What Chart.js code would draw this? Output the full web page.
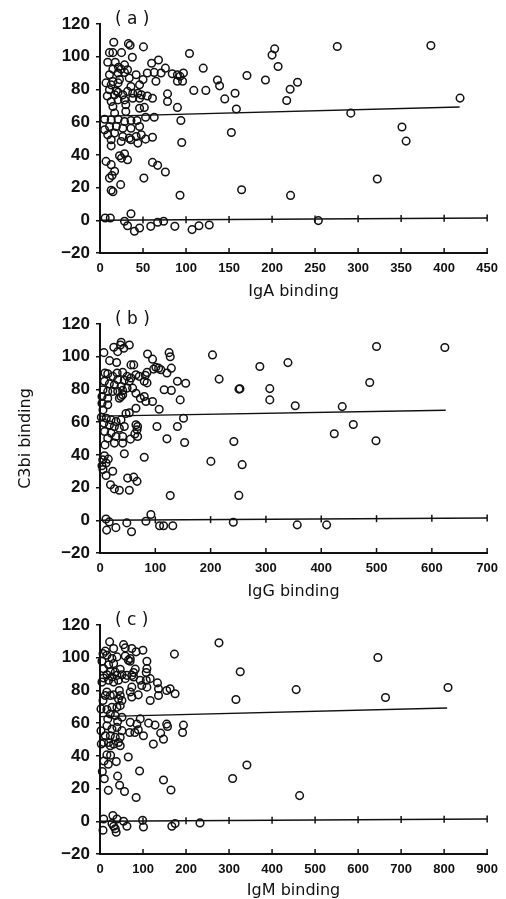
<!DOCTYPE html>
<html><head><meta charset="utf-8">
<script src="https://cdn.jsdelivr.net/npm/chart.js@4.4.1/dist/chart.umd.min.js"></script>
<style>
html,body{margin:0;padding:0;background:#fff;}
.panel{position:absolute;left:0;width:506px;}
canvas{display:block;}
</style></head><body>
<div class="panel" style="top:0;height:300px"><canvas id="cA" width="506" height="300"></canvas></div>
<div class="panel" style="top:300px;height:300px"><canvas id="cB" width="506" height="300"></canvas></div>
<div class="panel" style="top:600px;height:299px"><canvas id="cC" width="506" height="299"></canvas></div>
<script>
const yTicks = [-20, 0, 20, 40, 60, 80, 100, 120];
const igaTicks = [0, 50, 100, 150, 200, 250, 300, 350, 400, 450];
const iggTicks = [0, 100, 200, 300, 400, 500, 600, 700];
const igmTicks = [0, 100, 200, 300, 400, 500, 600, 700, 800, 900];
const panelLabels = ['( a )', '( b )', '( c )'];
const xTitles = ['IgA binding', 'IgG binding', 'IgM binding'];
const yTitle = 'C3bi binding';

const igaPoints = [
[16,108.8],[33,108],[35,107],[50.5,106],[11,102.5],[15,102.5],[25,102.5],[37.6,99.7],[104,102],[9,96.6],[17.7,96.6],[68,98],[60,96],[28.5,95],[21.5,93.6],[15,92.4],[24.6,92.4],[32,92],[76,93],[120,93],[11,89],[21,90],[28.5,90.4],[42,89],[55,90],[63,90.4],[71,90],[84,89.6],[90,89],[97,90],[93,88],[7,84],[15,84.8],[22.7,86],[34,87],[50,86],[65,85],[90,85],[96,85],[13,82.8],[21,84],[36,81.8],[46,82.8],[11,79.8],[19,79],[21,78.2],[32,78.8],[44,77.7],[109,79.4],[123,79.4],[8.5,76],[17,76.7],[26.5,76.7],[38,77.7],[48,76.7],[55,76],[61,74.6],[78.5,77.3],[78.5,72.6],[13,72.6],[21,73.6],[28.5,73.6],[38,74.6],[46,74.6],[15,69.5],[30,70.6],[46,68.5],[51.5,69],[90,69],[17,65.5],[30,66.5],[5.4,61.8],[13,61.4],[21,61.8],[28.5,60.4],[36,61],[43,61],[53,63],[63,63],[94,61],[5.4,55.3],[11,57.3],[19,57.3],[26.5,56.3],[36,56.3],[46,57.3],[9,52.3],[17,53.3],[26.5,51.2],[34,50.2],[42,51.2],[48,52.3],[53,49.6],[61,50.8],[13,49.2],[24.6,48.2],[36,49.2],[44,47.2],[13,45.5],[95,47.6],[7,36],[13,34],[22.7,39.5],[28.5,40.7],[32,37],[25,38],[61,35.4],[67,33.6],[76,29.5],[17,30],[14,27.4],[11,25.8],[51,25.8],[13,18.4],[15,17.5],[24,21.8],[93,15.3],[6,1.4],[12,1.4],[36,4],[28.5,-0.6],[32,-3.3],[40,-6.7],[46,-4.7],[59,-3.7],[67,-1.2],[74,-0.6],[87,-3.7],[107,-5.7],[115,-3.3],[127,-2.9],
[136.5,85.8],[139,82.2],[145,74.2],[157,77.7],[158.5,68],[152.7,53.7],[164.6,18.7],[170.8,88.5],[192.3,85.8],[200,101],[203,104.8],[207,94],[217,73.2],[221,80.1],[229.6,84.4],[221.5,15.2],[253.8,-0.2],[275.8,106.2],[291.5,65.5],[322.3,25.2],[351,57],[355.8,48.4],[384.6,106.8],[418.5,74.7]
];
const iggPoints = [
[38.3,108.8],[37,107.2],[53,107.2],[25,105.8],[43,105.2],[32,103.1],[7,102.5],[86,101.7],[125,102.5],[127,100],[17.4,97.6],[30,96.5],[56,95],[61,95],[95,98.5],[101,93.5],[106,93],[97,92.4],[110,92],[85,90.4],[82,88.7],[121,90],[129,93],[140,85],[155,83.8],
[9,90],[14,89.6],[23,88],[31,90],[41,90.4],[49,88],[56,87],[32,86],[44,85.6],[53,85],[65,89],[71,88],[80,85],[85,84],[8,85],[17,83.4],[26,82.8],[38,81.8],[49,80.8],[59,80.8],[5.4,79.8],[14,78.8],[23,78.8],[32,78.8],[41,79.4],[116,79.8],[129,79.4],[65,77.7],[73,74.6],[80,75.7],[83,72.6],[95,72.6],[107,67.9],[145,73.6],[3.6,75.7],[14,74.6],[35,74.6],[38,75.7],[41,76.7],[3.6,71.6],[14,70.6],[5.4,67.5],[65,68.5],[47,65.3],[53,65.7],
[2.4,63],[11.4,62.4],[20,61.4],[29,60.4],[38,61.4],[7,59.4],[17,58.3],[26,57.3],[35,56.3],[44,57.3],[8.4,54.3],[20,53.3],[29,51.2],[41,51.2],[14,50.2],[26,47.2],[9,46.1],[41,47.2],[55,49.6],[63,52.8],[67,55.3],[68,51.2],[65,58.4],[68,57.3],[103,57.3],[151,62.4],[140,57.3],[121,49.8],[153,47.6],
[44,40.7],[80,38.5],[8,39.5],[5,37],[15,37.4],[11,35],[3.6,33.3],[5.4,31],[23,30],[11,27.4],[50,25.8],[61,26.4],[67,23.8],[19,21.7],[26,19.2],[35,18.4],[53,18.4],[127,15.1],
[10.8,0.8],[16.7,-1],[12,-6],[28.7,-4.5],[48.5,-1.6],[57,-7],[83,-0.6],[92,3.5],[107.7,-3.3],[115,-3.3],[131.6,-3.3],[241,-1.2],[356.6,-2.8],[409.8,-2.8],
[203.4,101.1],[215.4,86.3],[251.3,80.2],[253,80.4],[289,94],[307,80.5],[307,73.6],[339.8,96.4],[353,70],[438,69.5],[487.7,84.2],[500,106.2],[623.5,105.6],[423.6,52.9],[458,58.6],[499,48.6],[242,48.2],[200.5,36],[257,34],[251,15.2]
];
const igmPoints = [
[22.4,109.7],[54.8,108],[58.7,106],[74,105.6],[84,103.6],[99.7,104.6],[31.7,105.6],[12.4,104],[7,102.5],[16,101.5],[27.8,99.5],[39.4,100.5],[58.7,101],[70.3,99.5],[173,102.2],[109,97.8],[109,93.3],[107.5,91],[82,93],[78,91],[74,89.2],[66,98.5],[70,97.8],
[4.6,97.8],[20,95.7],[31.7,96.4],[8.5,93.3],[24,91.6],[35.5,91.2],[47,92.9],[16.2,89.6],[27.8,88.2],[39.4,89.2],[51,89.6],[62.6,89.2],[8.5,87.6],[20,86.2],[31.7,85.1],[43,86.2],[58.7,87.2],[4.6,85.1],
[78,88.2],[93.5,86.2],[107.5,86.2],[116.7,87.2],[97,83],[109,82],[133.6,84.6],[136,81],[155,80],[163,81],[174.6,78],[116.7,73.8],[136,76.9],[74,82],[70.3,79],[74,76],[89,77.3],[45,80],[47,76.9],[51,73.8],[43,74.8],[16,79],[12.4,76.9],[24,76.9],[31.7,77.3],[7,73.8],
[27.8,69.7],[16,68.3],[39.4,69.7],[47,70.7],[2.3,68.7],[24,65.6],[35.5,64.6],[51,63.6],[41,61],[18,62.6],
[70.3,60.5],[93.5,62.6],[113,60],[128,58.8],[155,59.4],[157,58],[194,58.8],[192,54.3],[101,52.3],[124,47.2],[141,53.9],[147.6,50.2],[85.8,59.4],[89,56],[81,54.3],[69,54.3],
[16.2,58.4],[27.8,56.4],[39.4,57.4],[51,55.4],[12.4,52.3],[24,52.3],[35.5,51.3],[47,51.3],[20,48.2],[31.7,47.2],[43,48.2],[47,46.2],[8.5,48.2],[24,46.2],[2.3,55.3],[3,47.3],
[16,40.6],[9.3,36.9],[19.3,34.9],[24.7,40.4],[37.9,36.5],[10,26],[41,27.6],[45.6,22],[19.3,18.9],[57,18.2],[84,14.5],[65.7,39.3],[92,30.7],[147.6,25.2],[165,19.1],[5.4,30.4],
[276.6,109.1],[326,91.4],[316,74.5],[456,80.5],[646,100.1],[663.7,75.7],[809,81.8],[341.5,34.4],[308.3,26.2],[464,15.7],
[8.5,1.4],[30,3.5],[39.4,1.4],[54.8,0],[99,0.6],[7,-5.5],[31.7,-3],[35.5,-4.6],[37.6,-6.7],[27.8,-1.4],[62.6,-3],[101,-3.5],[167,-3],[174.6,-1.4],[232.5,-1]
];

const igaFit = [[0,63.5],[418,69.3]];
const iggFit = [[0,63.7],[625,67.3]];
const igmFit = [[0,64],[807,69.3]];
const igaZero = [[0,0],[450,1.4]];
const iggZero = [[0,0],[700,1.4]];
const igmZero = [[0,0],[900,1.4]];

const INK = '#111';
const FONT = "'Liberation Sans', Arial, sans-serif";
const WIDE = "'DejaVu Sans', sans-serif";

const figurePlugin = {
  id: 'figureMarks',
  afterDatasetsDraw(chart, args, opts) {
    const {ctx, chartArea} = chart;
    const xs = chart.scales.x, ys = chart.scales.y;
    ctx.save();
    ctx.strokeStyle = INK;
    ctx.lineWidth = 1.5;
    const z = opts.zero;
    opts.ticks.forEach(v => {
      const px = xs.getPixelForValue(v);
      ctx.beginPath();
      ctx.moveTo(px, chartArea.bottom);
      ctx.lineTo(px, chartArea.bottom - 5);
      ctx.stroke();
      const zv = z[0][1] + (z[1][1] - z[0][1]) * (v - z[0][0]) / (z[1][0] - z[0][0]);
      const py = ys.getPixelForValue(zv);
      if (v > 0) {
        ctx.beginPath();
        ctx.moveTo(px, py - 3.5);
        ctx.lineTo(px, py + 3.5);
        ctx.stroke();
      }
    });
    ctx.fillStyle = INK;
    ctx.font = '17px ' + WIDE;
    ctx.textBaseline = 'middle';
    ctx.textAlign = 'left';
    ctx.fillText(opts.label, chartArea.left + 15, chartArea.top - 4);
    ctx.restore();
  }
};

function toXY(arr) { return arr.map(p => ({x: p[0], y: p[1]})); }

function makeChart(id, points, fit, zero, xTicks, xTitle, label, showYTitle, topPad, canvasH) {
  const plotH = 229;
  new Chart(document.getElementById(id), {
    type: 'scatter',
    data: {
      datasets: [
        {data: toXY(zero), showLine: true, pointRadius: 0, borderColor: INK, borderWidth: 1.6, fill: false},
        {data: toXY(fit), showLine: true, pointRadius: 0, borderColor: INK, borderWidth: 1.4, fill: false},
        {data: toXY(points), showLine: false, pointRadius: 3.8, pointBorderWidth: 1.5,
         pointBorderColor: INK, pointBackgroundColor: 'rgba(0,0,0,0)', borderColor: INK, backgroundColor: 'rgba(0,0,0,0)'}
      ]
    },
    options: {
      responsive: false,
      animation: false,
      clip: false,
      layout: {padding: {top: topPad, right: 16, left: 0, bottom: 0}},
      plugins: {legend: {display: false}, tooltip: {enabled: false}, figureMarks: {ticks: xTicks, zero: zero, label: label}},
      scales: {
        x: {
          type: 'linear',
          min: xTicks[0], max: xTicks[xTicks.length - 1],
          afterBuildTicks: s => { s.ticks = xTicks.map(v => ({value: v})); },
          afterFit: s => { s.height = canvasH - topPad - plotH; },
          grid: {display: false, drawTicks: false},
          border: {display: true, color: INK, width: 2},
          ticks: {color: INK, padding: 8, maxRotation: 0, autoSkip: false, font: {family: FONT, size: 13, weight: 'bold'}},
          title: {display: true, text: xTitle, color: INK, padding: {top: 0, bottom: 0}, font: {family: WIDE, size: 16, lineHeight: 1.0}}
        },
        y: {
          type: 'linear',
          min: yTicks[0], max: yTicks[yTicks.length - 1],
          afterBuildTicks: s => { s.ticks = yTicks.map(v => ({value: v})); },
          afterFit: s => { s.width = 100; },
          grid: {display: true, drawOnChartArea: false, drawTicks: true, tickLength: 4, color: INK, lineWidth: 1.5},
          border: {display: true, color: INK, width: 2},
          ticks: {color: INK, padding: 6, autoSkip: false, font: {family: FONT, size: 17, weight: 'bold'},
                  callback: v => (v < 0 ? '\u2212' + Math.abs(v) : String(v))},
          title: {display: showYTitle, text: yTitle, color: INK, padding: {top: 16, bottom: 0}, font: {family: WIDE, size: 16}}
        }
      }
    },
    plugins: [figurePlugin]
  });
}

makeChart('cA', igaPoints, igaFit, igaZero, igaTicks, xTitles[0], panelLabels[0], false, 24, 300);
makeChart('cB', iggPoints, iggFit, iggZero, iggTicks, xTitles[1], panelLabels[1], true, 24, 300);
makeChart('cC', igmPoints, igmFit, igmZero, igmTicks, xTitles[2], panelLabels[2], false, 25, 299);
</script>
</body></html>
